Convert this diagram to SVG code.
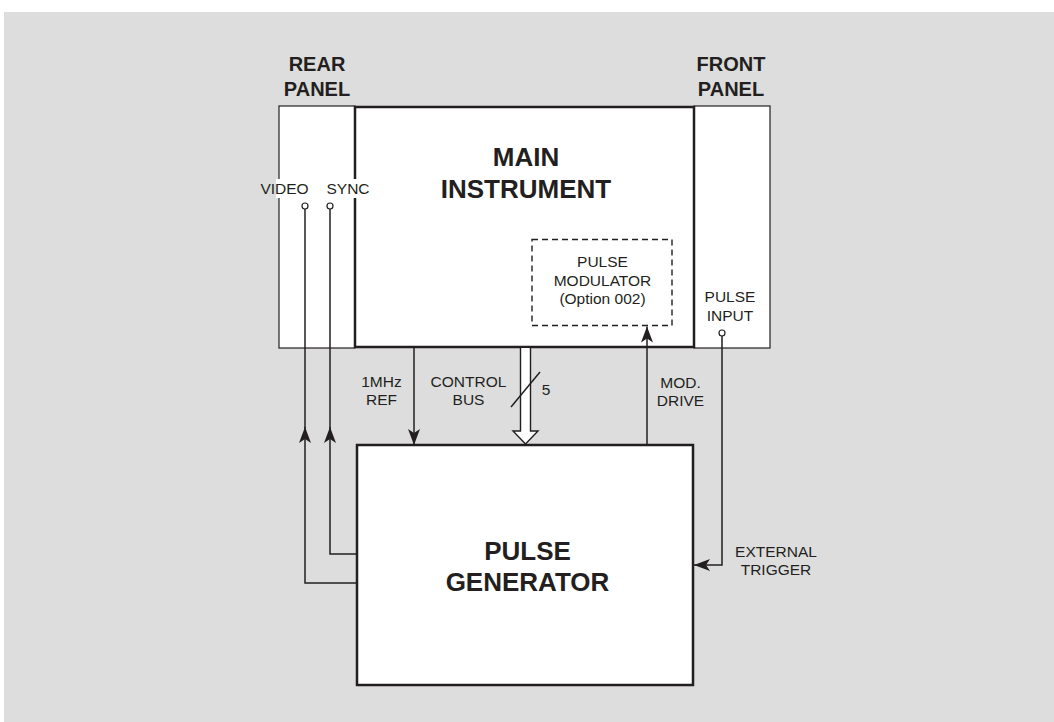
<svg xmlns="http://www.w3.org/2000/svg" width="1054" height="722" viewBox="0 0 1054 722">
<style>
.t{font-family:"Liberation Sans",Arial,sans-serif;fill:#231f20;text-anchor:middle}
.b{font-weight:bold}
.s{font-size:15.5px}
.box{fill:#fff;stroke:#231f20;stroke-width:2.5}
.pnl{fill:#fff;stroke:#231f20;stroke-width:1.2}
.ln{fill:none;stroke:#231f20;stroke-width:1.5}
</style>
<defs>
<marker id="ah" viewBox="0 0 16 12" refX="16" refY="6" markerWidth="16" markerHeight="12" markerUnits="userSpaceOnUse" orient="auto">
<path d="M0,0 L16,6 L0,12 L4,6 Z" fill="#231f20"/>
</marker>
</defs>
<rect x="0" y="0" width="1054" height="722" fill="#fff"/>
<rect x="4" y="12" width="1050" height="710" fill="#dcdddc"/>

<g id="rear-panel">
<rect class="pnl" x="279" y="106" width="76" height="242"/>
<text class="t b" x="317" y="71" font-size="20">REAR</text>
<text class="t b" x="317" y="96" font-size="20">PANEL</text>
</g>
<g id="front-panel">
<rect class="pnl" x="694" y="106" width="76" height="242"/>
<text class="t b" x="731" y="71" font-size="20">FRONT</text>
<text class="t b" x="731" y="96" font-size="20">PANEL</text>
<text class="t s" x="730" y="302">PULSE</text>
<text class="t s" x="730" y="320.5">INPUT</text>
</g>
<g id="main-instrument">
<rect class="box" x="355" y="107" width="339" height="240"/>
<text class="t b" x="526" y="166" font-size="26">MAIN</text>
<text class="t b" x="526" y="198" font-size="26">INSTRUMENT</text>
</g>
<g id="pulse-modulator">
<rect x="532" y="239.5" width="140" height="86" fill="none" stroke="#231f20" stroke-width="1.4" stroke-dasharray="6,4"/>
<text class="t s" x="602.5" y="267">PULSE</text>
<text class="t s" x="602.5" y="286">MODULATOR</text>
<text class="t s" x="602.5" y="304">(Option 002)</text>
</g>
<g id="video-sync">
<rect x="276" y="179" width="95" height="19" fill="#fff"/>
<text class="t s" x="284.5" y="193.5">VIDEO</text>
<text class="t s" x="348" y="193.5">SYNC</text>
</g>
<g id="pulse-generator">
<rect class="box" x="357" y="445" width="336" height="240"/>
<text class="t b" x="527.5" y="560" font-size="26">PULSE</text>
<text class="t b" x="527.5" y="591" font-size="26">GENERATOR</text>
</g>

<g id="connectors">
<path class="ln" d="M414,348 V445" marker-end="url(#ah)"/>
<path class="ln" d="M647,445 V326.5" marker-end="url(#ah)"/>
<path class="ln" d="M357,583 H305 V427" marker-end="url(#ah)"/>
<path class="ln" d="M305,428 V209"/>
<path class="ln" d="M357,554 H330 V427" marker-end="url(#ah)"/>
<path class="ln" d="M330,428 V209"/>
<path class="ln" d="M722,336 V565 H694" marker-end="url(#ah)"/>
<path d="M520.5,348 V431 H513 L525.5,444 L538,431 H530.5 V348" fill="#fff" stroke="#231f20" stroke-width="1.4"/>
<path class="ln" d="M511,407 L540,372"/>
<circle cx="305" cy="206" r="3" fill="#fff" stroke="#231f20" stroke-width="1.2"/>
<circle cx="330" cy="206" r="3" fill="#fff" stroke="#231f20" stroke-width="1.2"/>
<circle cx="722" cy="333" r="3" fill="#fff" stroke="#231f20" stroke-width="1.2"/>
</g>
<g id="labels">
<text class="t s" x="381.5" y="387">1MHz</text>
<text class="t s" x="381.5" y="405">REF</text>
<text class="t s" x="468.5" y="387">CONTROL</text>
<text class="t s" x="468.5" y="405">BUS</text>
<text class="t s" x="546" y="395">5</text>
<text class="t s" x="680.5" y="387.5">MOD.</text>
<text class="t s" x="680.5" y="405.5">DRIVE</text>
<text class="t s" x="776" y="557">EXTERNAL</text>
<text class="t s" x="776" y="575">TRIGGER</text>
</g>
</svg>
